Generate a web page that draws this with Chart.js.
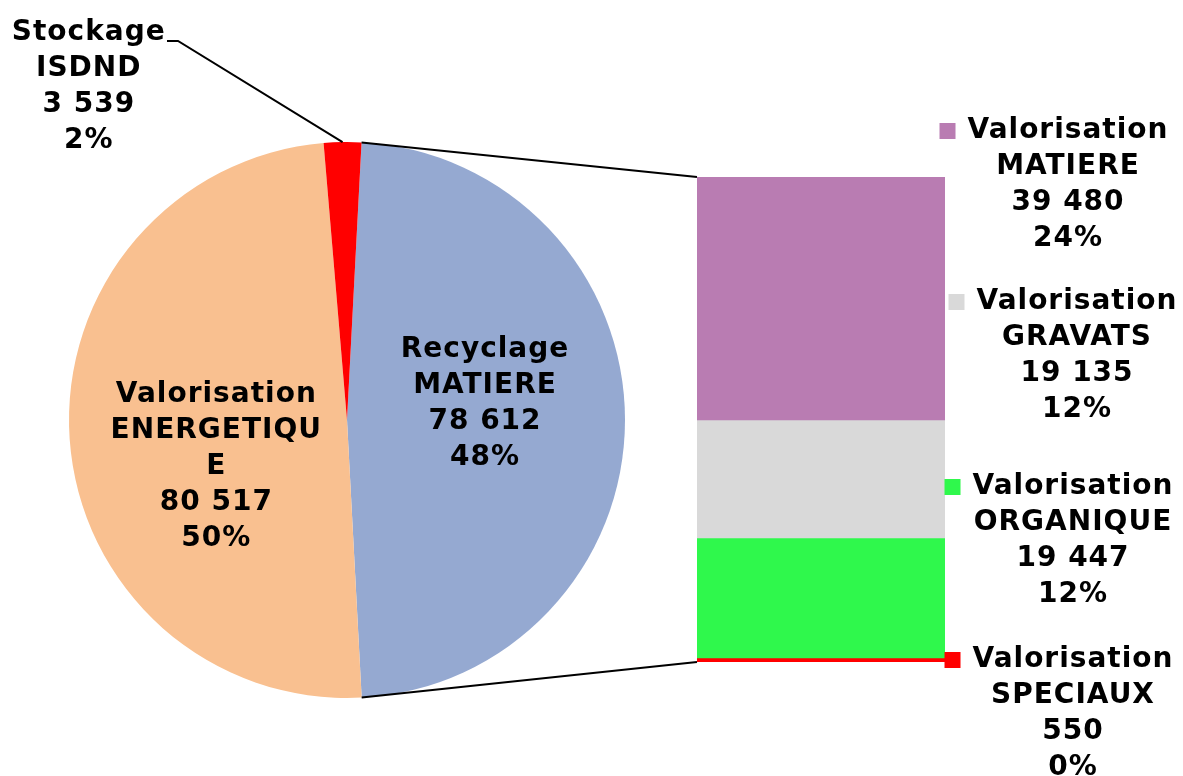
<!DOCTYPE html>
<html>
<head>
<meta charset="utf-8">
<script src="https://cdn.jsdelivr.net/npm/chart.js@4.4.1/dist/chart.umd.min.js"></script>
<style>
html, body { margin: 0; padding: 0; background: #fff; }
#wrap { position: relative; width: 1183px; height: 776px; overflow: hidden; }
canvas { position: absolute; left: 0; top: 0; }
</style>
</head>
<body>
<div id="wrap">
  <canvas id="pieChart" width="1183" height="776"></canvas>
  <canvas id="barChart" width="1183" height="776"></canvas>
</div>
<script>
// pie : recyclage (eclate dans la barre), energetique, stockage
var pieLabels = [["Recyclage", "MATIERE"], ["Valorisation", "ENERGETIQU", "E"], ["Stockage", "ISDND"]];
var pieValues = [78612, 80517, 3539];
var pieShares = ["48%", "50%", "2%"];
var pieColors = ["#95A9D1", "#F9C090", "#FF0000"];

// barre : du bas vers le haut
var barLabels = [["Valorisation", "SPECIAUX"], ["Valorisation", "ORGANIQUE"], ["Valorisation", "GRAVATS"], ["Valorisation", "MATIERE"]];
var barValues = [550, 19447, 19135, 39480];
var barShares = ["0%", "12%", "12%", "24%"];
var barColors = ["#FF0000", "#2FF84C", "#D9D9D9", "#B97CB2"];

var FONT = "bold 28px 'DejaVu Sans', Verdana, sans-serif";
var LINE_H = 36;

function fmt(v) {
  return String(v).replace(/\B(?=(\d{3})+(?!\d))/g, " ");
}

function drawBlock(ctx, lines, cx, y) {
  ctx.save();
  ctx.font = FONT;
  ctx.letterSpacing = "1px";
  ctx.fillStyle = "#000";
  ctx.textAlign = "center";
  ctx.textBaseline = "middle";
  for (var i = 0; i < lines.length; i++) {
    ctx.fillText(lines[i], cx, y + i * LINE_H);
  }
  ctx.restore();
}

var pieLabelPlugin = {
  id: "pieLabelPlugin",
  afterDatasetsDraw: function(chart) {
    var ctx = chart.ctx;
    var arcs = chart.getDatasetMeta(0).data;
    // decalages des etiquettes par rapport au milieu de la part
    var offs = [[-1, -70], [8, -35], [-256, -248]];
    for (var i = 0; i < arcs.length; i++) {
      var p = arcs[i].tooltipPosition();
      var lines = pieLabels[i].concat([fmt(pieValues[i]), pieShares[i]]);
      drawBlock(ctx, lines, p.x + offs[i][0], p.y + offs[i][1]);
    }
    // trait de rappel pour Stockage
    var a = arcs[2].getProps(["x", "y", "startAngle", "endAngle", "outerRadius"]);
    var mid = (a.startAngle + a.endAngle) / 2;
    ctx.save();
    ctx.strokeStyle = "#000";
    ctx.lineWidth = 2;
    ctx.beginPath();
    ctx.moveTo(167, 41);
    ctx.lineTo(178, 41);
    ctx.lineTo(a.x + a.outerRadius * Math.cos(mid), a.y + a.outerRadius * Math.sin(mid));
    ctx.stroke();
    ctx.restore();
  }
};

var pieChart = new Chart(document.getElementById("pieChart"), {
  type: "pie",
  data: {
    labels: pieLabels.map(function(l) { return l.join(" "); }),
    datasets: [{
      data: pieValues,
      backgroundColor: pieColors,
      borderWidth: 0
    }]
  },
  options: {
    responsive: false,
    animation: false,
    rotation: 3,
    layout: { padding: { left: 68, right: 557, top: 142, bottom: 78 } },
    plugins: { legend: { display: false }, tooltip: { enabled: false } }
  },
  plugins: [pieLabelPlugin]
});

var barTotal = barValues.reduce(function(s, v) { return s + v; }, 0);

var barLabelPlugin = {
  id: "barLabelPlugin",
  afterDatasetsDraw: function(chart) {
    var ctx = chart.ctx;
    var area = chart.chartArea;

    // lignes de liaison entre la part et la barre
    var a = pieChart.getDatasetMeta(0).data[0].getProps(["x", "y", "startAngle", "endAngle", "outerRadius"]);
    ctx.save();
    ctx.strokeStyle = "#000";
    ctx.lineWidth = 2;
    ctx.beginPath();
    ctx.moveTo(a.x + a.outerRadius * Math.cos(a.startAngle), a.y + a.outerRadius * Math.sin(a.startAngle));
    ctx.lineTo(area.left, area.top);
    ctx.moveTo(a.x + a.outerRadius * Math.cos(a.endAngle), a.y + a.outerRadius * Math.sin(a.endAngle));
    ctx.lineTo(area.left, area.bottom);
    ctx.stroke();
    ctx.restore();

    // etiquettes a droite avec petit carre de couleur
    var centersX = [1073, 1073, 1077, 1068];
    var firstY = [660, 487, 302, 131];
    ctx.save();
    ctx.font = FONT;
    ctx.letterSpacing = "1px";
    for (var i = 0; i < barValues.length; i++) {
      var lines = barLabels[i].concat([fmt(barValues[i]), barShares[i]]);
      var w = ctx.measureText(lines[0]).width;
      var left = centersX[i] - w / 2;
      ctx.fillStyle = barColors[i];
      ctx.fillRect(left - 28, firstY[i] - 8, 16, 16);
      drawBlock(ctx, lines, centersX[i], firstY[i]);
    }
    ctx.restore();
  }
};

new Chart(document.getElementById("barChart"), {
  type: "bar",
  data: {
    labels: [""],
    datasets: barValues.map(function(v, i) {
      return {
        label: barLabels[i].join(" "),
        data: [v],
        backgroundColor: barColors[i],
        borderWidth: 0,
        barPercentage: 1,
        categoryPercentage: 1
      };
    })
  },
  options: {
    responsive: false,
    animation: false,
    layout: { padding: { left: 697, right: 238, top: 177, bottom: 114 } },
    scales: {
      x: { stacked: true, display: false },
      y: { stacked: true, display: false, min: 0, max: barTotal }
    },
    plugins: { legend: { display: false }, tooltip: { enabled: false } }
  },
  plugins: [barLabelPlugin]
});
</script>
</body>
</html>
